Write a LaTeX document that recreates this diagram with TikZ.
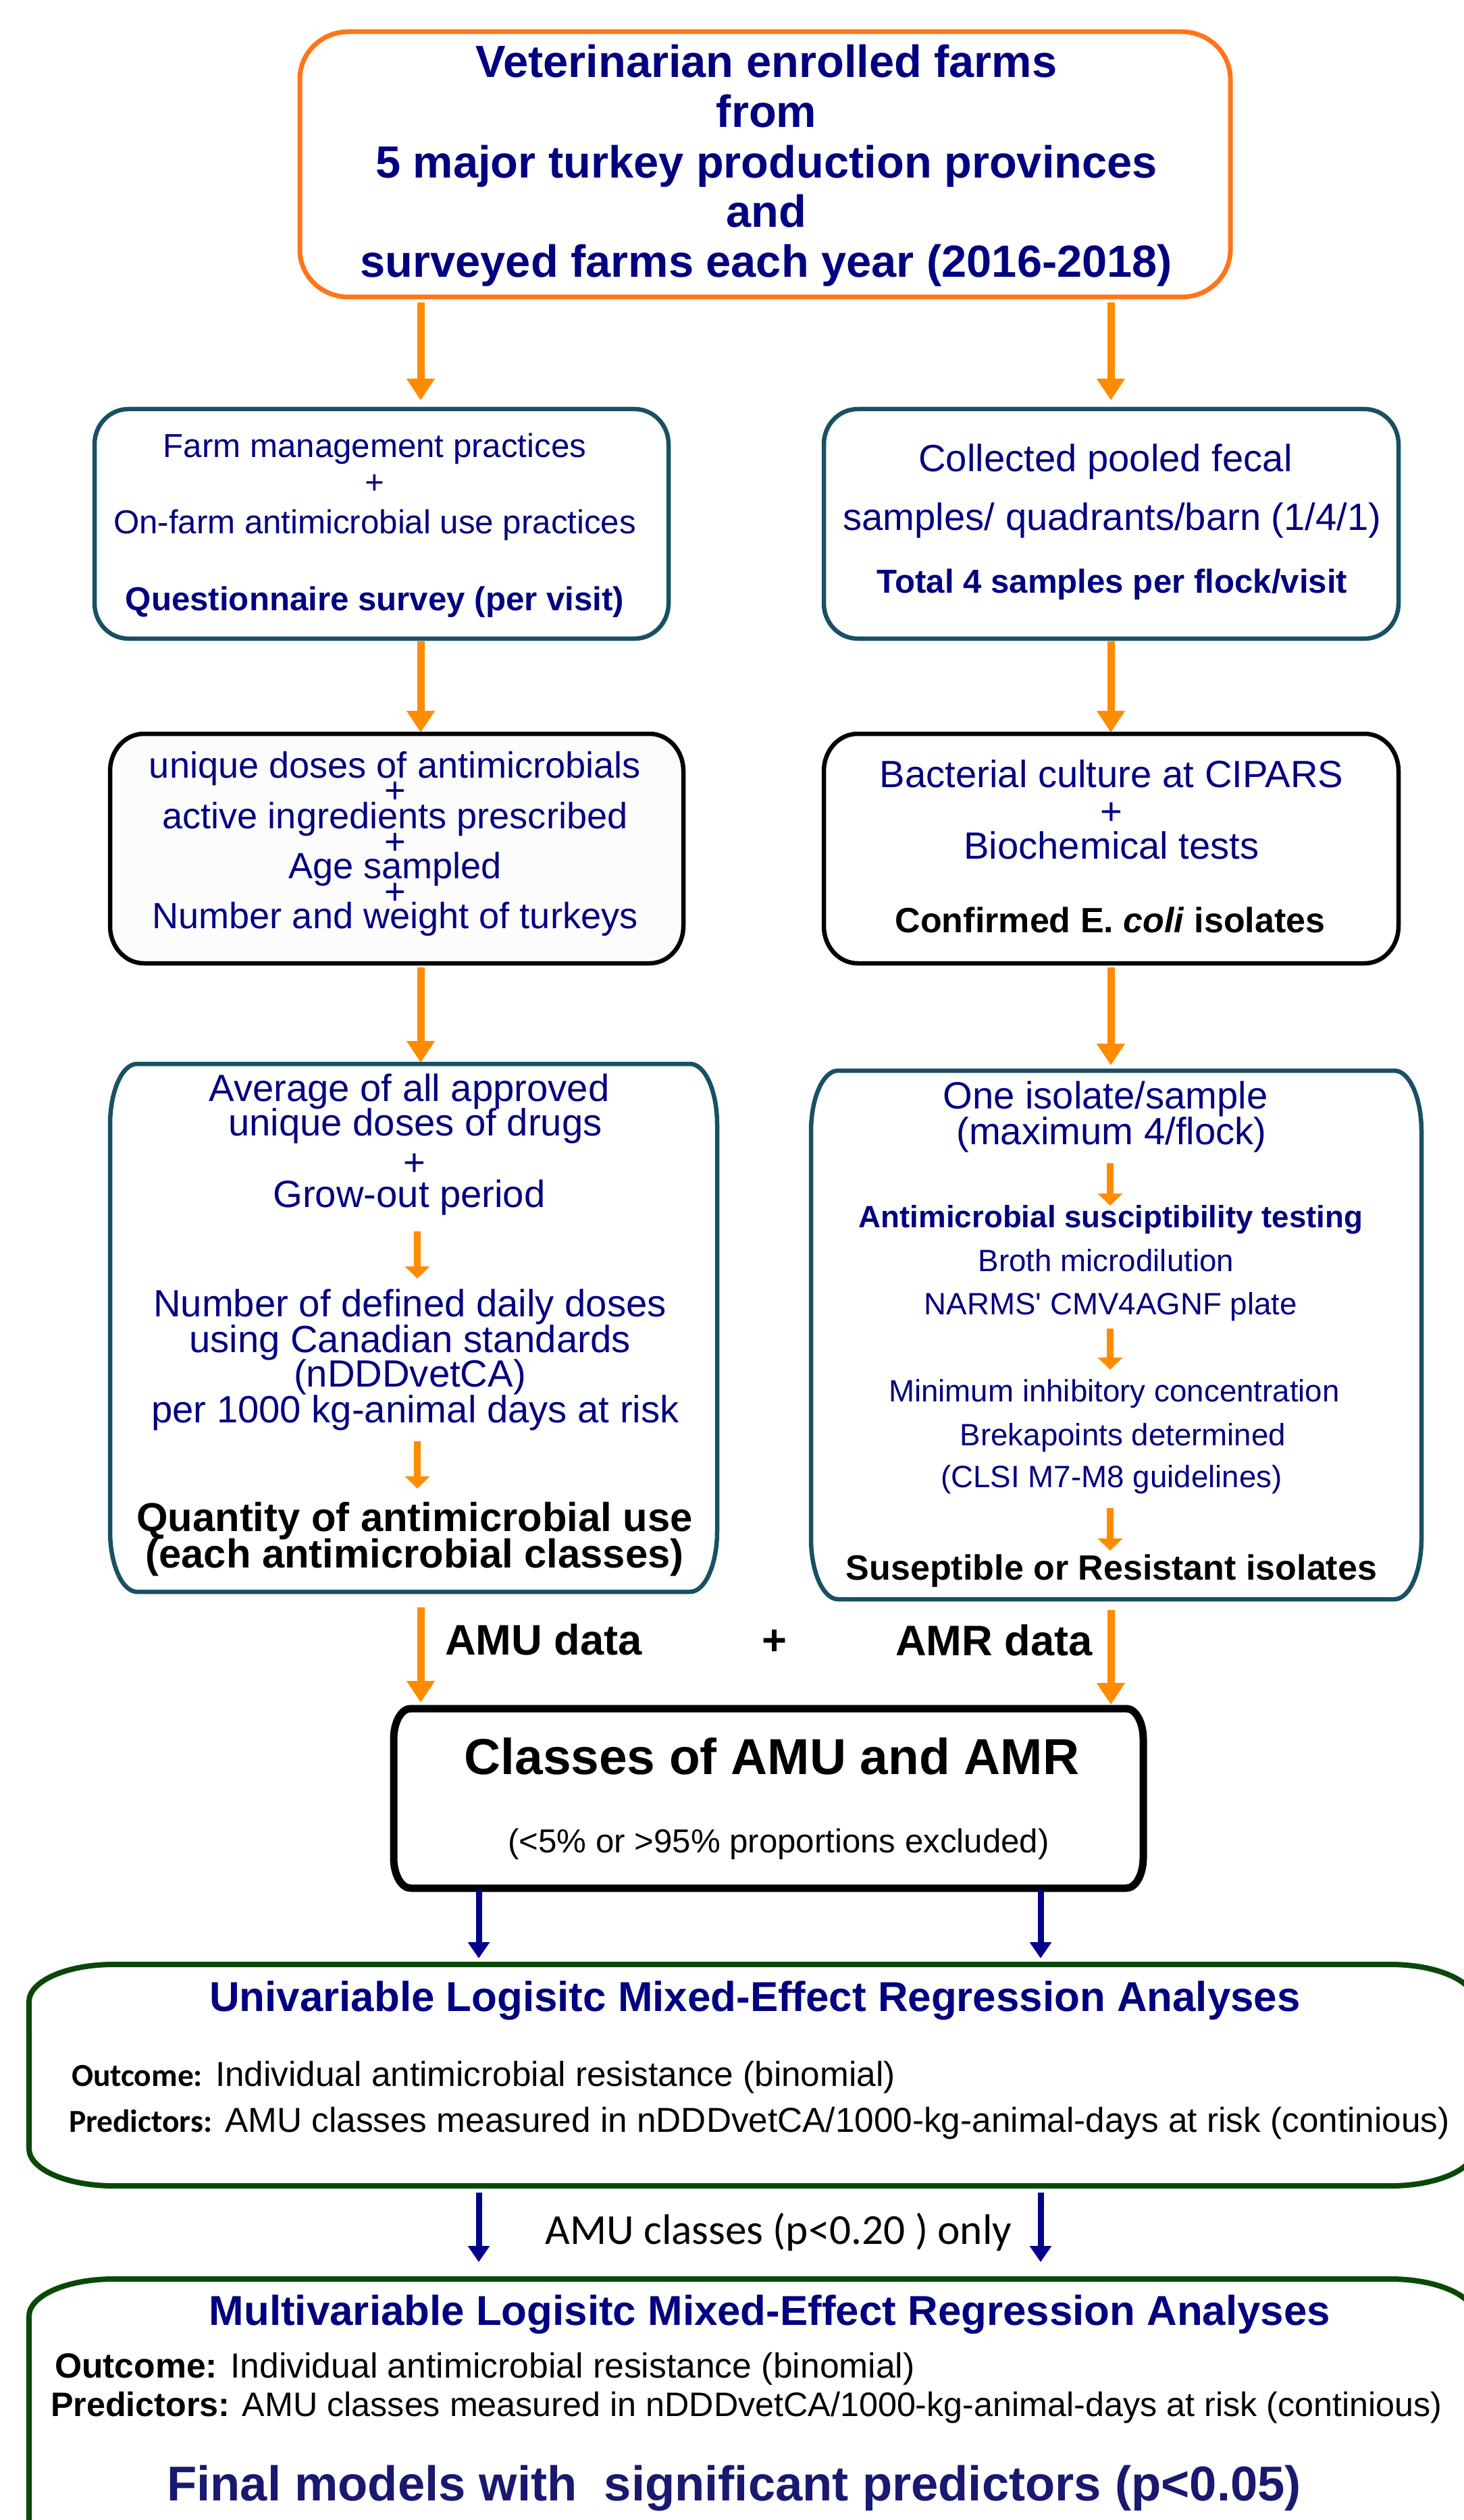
\documentclass[tikz,border=0pt]{standalone}
\usepackage{fontspec}
\setmainfont{Liberation Sans}
\newfontfamily\calib{Carlito}
\usetikzlibrary{arrows.meta,fit}
\definecolor{navytext}{RGB}{0,0,128}
\definecolor{tealline}{RGB}{24,80,100}
\definecolor{topline}{RGB}{255,117,24}
\definecolor{greenline}{RGB}{10,72,10}
\definecolor{midblue}{RGB}{25,25,112}
\definecolor{arrorange}{RGB}{255,140,0}
\definecolor{arrblue}{RGB}{0,0,140}
\definecolor{lightfill}{RGB}{252,252,252}
% #1 name, #2 style, #3 x0, #4 ytop, #5 x1, #6 ybot, #7 rx, #8 ry
\newcommand{\flowbox}[8]{%
  \node[fit={(#3,#4) (#5,#6)}, inner sep=0pt, outer sep=0pt] (#1) {};
  \draw[#2] ({#3+#7},#4) -- ({#5-#7},#4)
    arc[start angle=90,end angle=0,x radius=#7,y radius=#8]
    -- (#5,{#6+#8})
    arc[start angle=0,end angle=-90,x radius=#7,y radius=#8]
    -- ({#3+#7},#6)
    arc[start angle=270,end angle=180,x radius=#7,y radius=#8]
    -- (#3,{#4-#8})
    arc[start angle=180,end angle=90,x radius=#7,y radius=#8] -- cycle;
}
\tikzset{
  tx/.style={anchor=base, inner sep=0pt, outer sep=0pt, text=navytext},
  txl/.style={anchor=base west, inner sep=0pt, outer sep=0pt, text=black},
  fs/.style={font=\fontsize{#1}{#1}\selectfont},
  bfs/.style={font=\fontsize{#1}{#1}\selectfont\bfseries},
  blk/.style={text=black},
  topbox/.style={draw=topline, line width=0.07cm, line join=round},
  tealbox/.style={draw=tealline, line width=0.065cm, line join=round},
  blackbox/.style={draw=black, line width=0.065cm, fill=lightfill, line join=round},
  whitebox/.style={draw=black, line width=0.065cm, fill=white, line join=round},
  classbox/.style={draw=black, line width=0.11cm, line join=round},
  greenbox/.style={draw=greenline, line width=0.08cm, line join=round},
  oarr/.style={draw=arrorange, line width=0.11cm, -{Triangle[width=0.40cm,length=0.32cm]}},
  sarr/.style={draw=arrorange, line width=0.10cm, -{Triangle[width=0.36cm,length=0.18cm]}},
  barr/.style={draw=arrblue, line width=0.09cm, -{Triangle[width=0.31cm,length=0.24cm]}},
}
\begin{document}
\begin{tikzpicture}
\useasboundingbox (0,0) rectangle (21.67,-37.33);
\fill[white] (0,0) rectangle (21.67,-37.33);

% x positions of connectors
\coordinate (xl) at (6.23,0);
\coordinate (xr) at (16.45,0);
\coordinate (bl) at (7.09,0);
\coordinate (br) at (15.41,0);

% ---------- boxes ----------
\flowbox{top}{topbox}{4.44}{-0.47}{18.22}{-4.40}{0.72}{0.70}
\flowbox{b2l}{tealbox}{1.40}{-6.06}{9.90}{-9.46}{0.50}{0.52}
\flowbox{b2r}{tealbox}{12.20}{-6.06}{20.71}{-9.46}{0.50}{0.52}
\flowbox{b3l}{blackbox}{1.63}{-10.87}{10.12}{-14.27}{0.50}{0.55}
\flowbox{b3r}{whitebox}{12.20}{-10.87}{20.71}{-14.27}{0.50}{0.55}
\flowbox{b4l}{tealbox}{1.63}{-15.76}{10.62}{-23.58}{0.40}{0.90}
\flowbox{b4r}{tealbox}{12.01}{-15.86}{21.05}{-23.69}{0.40}{0.90}
\flowbox{cls}{classbox}{5.83}{-25.31}{16.93}{-27.97}{0.25}{0.45}
\flowbox{uni}{greenbox}{0.43}{-29.10}{21.84}{-32.38}{1.25}{0.55}
\flowbox{mul}{greenbox}{0.43}{-33.76}{21.84}{-38.00}{1.25}{0.55}

% ---------- top box text ----------
\node[tx, bfs=19] (t1) at (11.35,-1.15) {Veterinarian enrolled farms};
\node[tx, bfs=19] (t2) at (11.35,-1.89) {from};
\node[tx, bfs=19] (t3) at (11.35,-2.64) {5 major turkey production provinces};
\node[tx, bfs=19] (t4) at (11.35,-3.37) {and};
\node[tx, bfs=19] (t5) at (11.35,-4.11) {surveyed farms each year (2016-2018)};

% ---------- box 2 ----------
\node[tx, fs=14] (l2a) at (5.55,-6.78) {Farm management practices};
\node[tx, fs=14] (l2p) at (5.55,-7.31) {+};
\node[tx, fs=14] (l2b) at (5.55,-7.90) {On-farm antimicrobial use practices};
\node[tx, bfs=14] (l2c) at (5.55,-9.04) {Questionnaire survey (per visit)};

\node[tx, fs=16] (r2a) at (16.37,-6.98) {Collected pooled fecal};
\node[tx, fs=16] (r2b) at (16.47,-7.85) {samples/ quadrants/barn (1/4/1)};
\node[tx, bfs=14] (r2c) at (16.47,-8.78) {Total 4 samples per flock/visit};

% ---------- box 3 ----------
\node[tx, fs=15.4] (l3a) at (5.85,-11.52) {unique doses of antimicrobials};
\node[tx, fs=15.4] (l3p1) at (5.85,-11.89) {+};
\node[tx, fs=15.4] (l3b) at (5.85,-12.27) {active ingredients prescribed};
\node[tx, fs=15.4] (l3p2) at (5.85,-12.65) {+};
\node[tx, fs=15.4] (l3c) at (5.85,-13.01) {Age sampled};
\node[tx, fs=15.4] (l3p3) at (5.85,-13.39) {+};
\node[tx, fs=15.4] (l3d) at (5.85,-13.75) {Number and weight of turkeys};

\node[tx, fs=16] (r3a) at (16.46,-11.66) {Bacterial culture at CIPARS};
\node[tx, fs=16] (r3p) at (16.46,-12.21) {+};
\node[tx, fs=16] (r3b) at (16.46,-12.72) {Biochemical tests};
\node[tx, bfs=14.8, blk] (r3c) at (16.44,-13.81) {Confirmed E. \textit{coli} isolates};

% ---------- box 4 left ----------
\node[tx, fs=16] (l4a) at (6.06,-16.31) {Average of all approved};
\node[tx, fs=16] (l4b) at (6.15,-16.82) {unique doses of drugs};
\node[tx, fs=16] (l4p) at (6.14,-17.41) {+};
\node[tx, fs=16] (l4c) at (6.06,-17.88) {Grow-out period};
\node[tx, fs=16] (l4d) at (6.07,-19.50) {Number of defined daily doses};
\node[tx, fs=16] (l4e) at (6.07,-20.03) {using Canadian standards};
\node[tx, fs=16] (l4f) at (6.07,-20.54) {(nDDDvetCA)};
\node[tx, fs=16] (l4g) at (6.15,-21.07) {per 1000 kg-animal days at risk};
\node[tx, bfs=17, blk] (l4h) at (6.14,-22.68) {Quantity of antimicrobial use};
\node[tx, bfs=17, blk] (l4i) at (6.14,-23.22) {(each antimicrobial classes)};
\coordinate (la1s) at (6.18,-18.24);
\coordinate (la1e) at (6.18,-18.94);
\coordinate (la2s) at (6.18,-21.35);
\coordinate (la2e) at (6.18,-22.05);
\draw[sarr] (la1s) -- (la1e);
\draw[sarr] (la2s) -- (la2e);

% ---------- box 4 right ----------
\node[tx, fs=16] (r4a) at (16.37,-16.42) {One isolate/sample};
\node[tx, fs=16] (r4b) at (16.46,-16.95) {(maximum 4/flock)};
\node[tx, bfs=13] (r4c) at (16.45,-18.18) {Antimicrobial susciptibility testing};
\node[tx, fs=13] (r4d) at (16.38,-18.83) {Broth microdilution};
\node[tx, fs=13] (r4e) at (16.45,-19.47) {NARMS\textquotesingle{} CMV4AGNF plate};
\node[tx, fs=13] (r4f) at (16.50,-20.76) {Minimum inhibitory concentration};
\node[tx, fs=13] (r4g) at (16.63,-21.41) {Brekapoints determined};
\node[tx, fs=13] (r4h) at (16.46,-22.03) {(CLSI M7-M8 guidelines)};
\node[tx, bfs=14.8, blk] (r4i) at (16.46,-23.40) {Suseptible or Resistant isolates};
\coordinate (ra1s) at (16.44,-17.23);
\coordinate (ra1e) at (16.44,-17.86);
\coordinate (ra2s) at (16.44,-19.68);
\coordinate (ra2e) at (16.44,-20.29);
\coordinate (ra3s) at (16.44,-22.34);
\coordinate (ra3e) at (16.44,-22.97);
\draw[sarr] (ra1s) -- (ra1e);
\draw[sarr] (ra2s) -- (ra2e);
\draw[sarr] (ra3s) -- (ra3e);

% ---------- data labels ----------
\node[tx, bfs=18, blk] (amu) at (8.05,-24.51) {AMU data};
\node[tx, bfs=18, blk] (plus) at (11.47,-24.51) {+};
\node[tx, bfs=18, blk] (amr) at (14.72,-24.52) {AMR data};

% ---------- classes box ----------
\node[tx, bfs=21.3, blk] (c1) at (11.43,-26.28) {Classes of AMU and AMR};
\node[tx, fs=14, blk] (c2) at (11.53,-27.44) {(<5\% or >95\% proportions excluded)};

% ---------- univariable ----------
\node[tx, bfs=17.6] (u1) at (11.18,-29.79) {Univariable Logisitc Mixed-Effect Regression Analyses};
\node[txl, fs=14.6] (u2) at (1.06,-30.90) {{\calib\fontsize{13.5}{13.5}\selectfont\bfseries Outcome:} Individual antimicrobial resistance (binomial)};
\node[txl, fs=14.6] (u3) at (1.02,-31.58) {{\calib\fontsize{13.5}{13.5}\selectfont\bfseries Predictors:} AMU classes measured in nDDDvetCA/1000-kg-animal-days at risk (continious)};

\node[tx, blk, font=\calib\fontsize{18}{18}\selectfont] (only) at (11.53,-33.24) {AMU classes (p<0.20 ) only};

% ---------- multivariable ----------
\node[tx, bfs=17.6] (m1) at (11.40,-34.44) {Multivariable Logisitc Mixed-Effect Regression Analyses};
\node[txl, fs=14.7] (m2) at (0.81,-35.22) {{\bfseries Outcome:} Individual antimicrobial resistance (binomial)};
\node[txl, fs=14.3] (m3) at (0.75,-35.79) {{\bfseries Predictors:} AMU classes measured in nDDDvetCA/1000-kg-animal-days at risk (continious)};
\node[tx, bfs=20.6, text=midblue] (m4) at (10.87,-37.04) {Final models with\ \ significant predictors (p<0.05)};

% ---------- connectors ----------
\draw[oarr, shorten <=0.08cm, shorten >=0.13cm] (top.south -| xl) -- (b2l.north -| xl);
\draw[oarr, shorten <=0.08cm, shorten >=0.13cm] (top.south -| xr) -- (b2r.north -| xr);
\draw[oarr, shorten <=0.04cm, shorten >=0.02cm] (b2l.south -| xl) -- (b3l.north -| xl);
\draw[oarr, shorten <=0.04cm, shorten >=0.02cm] (b2r.south -| xr) -- (b3r.north -| xr);
\draw[oarr, shorten <=0.06cm, shorten >=0.02cm] (b3l.south -| xl) -- (b4l.north -| xl);
\draw[oarr, shorten <=0.06cm, shorten >=0.08cm] (b3r.south -| xr) -- (b4r.north -| xr);
\draw[oarr, shorten <=0.23cm, shorten >=0.09cm] (b4l.south -| xl) -- (cls.north -| xl);
\draw[oarr, shorten <=0.16cm, shorten >=0.06cm] (b4r.south -| xr) -- (cls.north -| xr);
\draw[barr, shorten <=0.03cm, shorten >=0.09cm] (cls.south -| bl) -- (uni.north -| bl);
\draw[barr, shorten <=0.03cm, shorten >=0.09cm] (cls.south -| br) -- (uni.north -| br);
\draw[barr, shorten <=0.10cm, shorten >=0.25cm] (uni.south -| bl) -- (mul.north -| bl);
\draw[barr, shorten <=0.10cm, shorten >=0.25cm] (uni.south -| br) -- (mul.north -| br);
\end{tikzpicture}
\end{document}
